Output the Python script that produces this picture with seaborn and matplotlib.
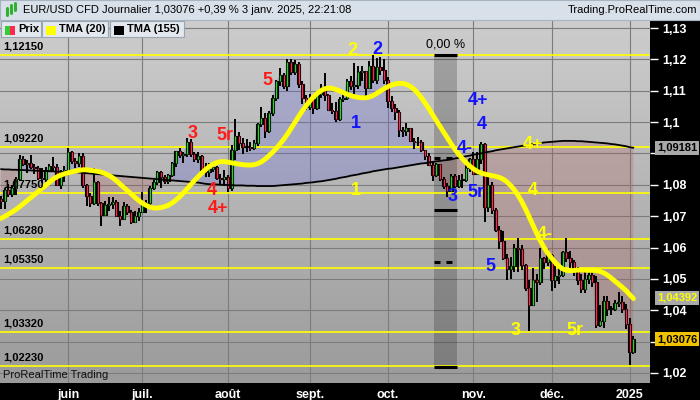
import numpy as np
import pandas as pd
import seaborn as sns
import matplotlib
matplotlib.use("agg")
import matplotlib.pyplot as plt
from matplotlib.patches import Rectangle
from matplotlib.lines import Line2D
from matplotlib.colors import LinearSegmentedColormap
from matplotlib.ticker import FuncFormatter

# EUR/USD daily bars, 8 May 2024 -> 3 Jan 2025 (no bar on 25 Dec / 1 Jan)
closes = [
    1.0748, 1.0782, 1.0771, 1.0790, 1.0820, 1.0882, 1.0866, 1.0869, 1.0857, 1.0855, 1.0823, 1.0818, 1.0847, 1.0859, 1.0858, 1.0800, 1.0832, 1.0848,
    1.0904, 1.0876, 1.0870, 1.0891, 1.0800, 1.0765, 1.0741, 1.0810, 1.0741, 1.0703, 1.0735, 1.0740, 1.0746, 1.0702, 1.0692, 1.0733, 1.0714, 1.0682, 1.0700, 1.0713,
    1.0740, 1.0742, 1.0791, 1.0809, 1.0840, 1.0826, 1.0813, 1.0830, 1.0868, 1.0907, 1.0894, 1.0897, 1.0938, 1.0897, 1.0883, 1.0891, 1.0846, 1.0842, 1.0850, 1.0856, 1.0822, 1.0817, 1.0826,
    1.0790, 1.0910, 1.0955, 1.0932, 1.0922, 1.0920, 1.0916, 1.0932, 1.0993, 1.1012, 1.0970, 1.1028, 1.1077, 1.1130, 1.1151, 1.1114, 1.1193, 1.1161, 1.1184, 1.1120, 1.1078, 1.1047,
    1.1073, 1.1044, 1.1089, 1.1111, 1.1085, 1.1040, 1.1036, 1.1011, 1.1075, 1.1076, 1.1132, 1.1114, 1.1117, 1.1161, 1.1164, 1.1110, 1.1180, 1.1134, 1.1176, 1.1165, 1.1135,
    1.1068, 1.1045, 1.1033, 1.0974, 1.0973, 1.0980, 1.0940, 1.0935, 1.0938, 1.0910, 1.0891, 1.0862, 1.0832, 1.0866, 1.0817, 1.0797, 1.0781, 1.0827, 1.0796, 1.0815, 1.0816, 1.0855, 1.0883,
    1.0834, 1.0881, 1.0929, 1.0730, 1.0800, 1.0719, 1.0655, 1.0622, 1.0565, 1.0530, 1.0541, 1.0599, 1.0595, 1.0543, 1.0472, 1.0418, 1.0495, 1.0490, 1.0568, 1.0555, 1.0577,
    1.0497, 1.0510, 1.0511, 1.0585, 1.0567, 1.0555, 1.0528, 1.0496, 1.0467, 1.0500, 1.0512, 1.0490, 1.0352, 1.0365, 1.0430, 1.0405, 1.0405, 1.0422, 1.0426, 1.0405, 1.0355,
    1.0268, 1.0308,
]
highs = [
    1.0763, 1.0790, 1.0803, 1.0799, 1.0826, 1.0895, 1.0891, 1.0880, 1.0894, 1.0866, 1.0860, 1.0852, 1.0858, 1.0865, 1.0888, 1.0866, 1.0848, 1.0860,
    1.0916, 1.0907, 1.0884, 1.0902, 1.0900, 1.0802, 1.0775, 1.0852, 1.0812, 1.0745, 1.0749, 1.0762, 1.0760, 1.0751, 1.0718, 1.0746, 1.0740, 1.0719, 1.0717, 1.0726,
    1.0776, 1.0750, 1.0796, 1.0816, 1.0845, 1.0845, 1.0830, 1.0834, 1.0872, 1.0909, 1.0916, 1.0903, 1.0948, 1.0945, 1.0904, 1.0903, 1.0895, 1.0868, 1.0868, 1.0871, 1.0859, 1.0836, 1.0848,
    1.0832, 1.0926, 1.1009, 1.0968, 1.0948, 1.0945, 1.0938, 1.0942, 1.0998, 1.1047, 1.1030, 1.1035, 1.1085, 1.1135, 1.1174, 1.1155, 1.1201, 1.1202, 1.1197, 1.1190, 1.1132, 1.1085,
    1.1090, 1.1075, 1.1093, 1.1121, 1.1155, 1.1089, 1.1060, 1.1064, 1.1079, 1.1095, 1.1137, 1.1148, 1.1189, 1.1180, 1.1180, 1.1164, 1.1194, 1.1214, 1.1203, 1.1209, 1.1200,
    1.1145, 1.1083, 1.1059, 1.1040, 1.0985, 1.0996, 1.0982, 1.0950, 1.0954, 1.0943, 1.0912, 1.0900, 1.0872, 1.0869, 1.0866, 1.0825, 1.0805, 1.0836, 1.0834, 1.0830, 1.0835, 1.0870, 1.0886,
    1.0905, 1.0905, 1.0937, 1.0933, 1.0827, 1.0810, 1.0725, 1.0670, 1.0653, 1.0580, 1.0570, 1.0610, 1.0630, 1.0608, 1.0546, 1.0496, 1.0535, 1.0515, 1.0598, 1.0570, 1.0596,
    1.0580, 1.0540, 1.0545, 1.0590, 1.0629, 1.0590, 1.0560, 1.0538, 1.0515, 1.0523, 1.0535, 1.0522, 1.0508, 1.0418, 1.0446, 1.0445, 1.0415, 1.0434, 1.0457, 1.0445, 1.0419,
    1.0375, 1.0317,
]
lows = [
    1.0724, 1.0723, 1.0761, 1.0762, 1.0766, 1.0812, 1.0859, 1.0838, 1.0850, 1.0835, 1.0815, 1.0805, 1.0810, 1.0840, 1.0844, 1.0797, 1.0788, 1.0810,
    1.0840, 1.0866, 1.0853, 1.0857, 1.0790, 1.0732, 1.0730, 1.0735, 1.0732, 1.0668, 1.0703, 1.0717, 1.0724, 1.0700, 1.0670, 1.0691, 1.0703, 1.0676, 1.0680, 1.0685,
    1.0710, 1.0710, 1.0735, 1.0785, 1.0798, 1.0791, 1.0804, 1.0804, 1.0826, 1.0858, 1.0884, 1.0870, 1.0890, 1.0888, 1.0874, 1.0869, 1.0841, 1.0825, 1.0826, 1.0842, 1.0814, 1.0800, 1.0795,
    1.0777, 1.0780, 1.0880, 1.0910, 1.0897, 1.0905, 1.0907, 1.0910, 1.0925, 1.0984, 1.0950, 1.0965, 1.1020, 1.1066, 1.1116, 1.1104, 1.1100, 1.1150, 1.1149, 1.1110, 1.1058, 1.1040,
    1.1040, 1.1026, 1.1037, 1.1077, 1.1066, 1.1034, 1.1025, 1.1001, 1.1003, 1.1064, 1.1070, 1.1101, 1.1091, 1.1105, 1.1131, 1.1083, 1.1108, 1.1125, 1.1123, 1.1150, 1.1123,
    1.1045, 1.1033, 1.1007, 1.0951, 1.0954, 1.0955, 1.0935, 1.0915, 1.0925, 1.0904, 1.0880, 1.0860, 1.0811, 1.0826, 1.0813, 1.0786, 1.0761, 1.0777, 1.0791, 1.0790, 1.0790, 1.0810, 1.0840,
    1.0830, 1.0830, 1.0867, 1.0682, 1.0713, 1.0708, 1.0650, 1.0595, 1.0560, 1.0497, 1.0500, 1.0523, 1.0523, 1.0528, 1.0462, 1.0335, 1.0415, 1.0425, 1.0481, 1.0530, 1.0540,
    1.0460, 1.0472, 1.0484, 1.0506, 1.0555, 1.0535, 1.0510, 1.0480, 1.0454, 1.0456, 1.0485, 1.0473, 1.0343, 1.0345, 1.0343, 1.0382, 1.0385, 1.0396, 1.0410, 1.0390, 1.0341,
    1.0226, 1.0262,
]
# closes of the 20 sessions before the first bar (warm-up for TMA 20)
warmup_closes = [1.0742, 1.0726, 1.0642, 1.0625, 1.0620, 1.0672, 1.0644, 1.0655, 1.0655, 1.0704,
                 1.0699, 1.0730, 1.0693, 1.0719, 1.0665, 1.0715, 1.0727, 1.0762, 1.0770, 1.0754]
# TMA(155)
tma155 = [
    1.0850, 1.0849, 1.0849, 1.0848, 1.0848, 1.0847, 1.0847, 1.0846, 1.0846, 1.0845, 1.0845, 1.0844, 1.0844, 1.0843, 1.0843, 1.0842, 1.0842, 1.0841, 1.0841, 1.0840, 1.0840,
    1.0839, 1.0838, 1.0837, 1.0836, 1.0835, 1.0834, 1.0833, 1.0832, 1.0831, 1.0830, 1.0829, 1.0828, 1.0827, 1.0826, 1.0825, 1.0824, 1.0823, 1.0822,
    1.0821, 1.0820, 1.0819, 1.0818, 1.0817, 1.0816, 1.0815, 1.0814, 1.0813, 1.0812, 1.0811, 1.0810, 1.0809, 1.0808, 1.0807, 1.0805, 1.0803,
    1.0802, 1.0801, 1.0801, 1.0800, 1.0800, 1.0799, 1.0799, 1.0798, 1.0798, 1.0798, 1.0797, 1.0797, 1.0797, 1.0796, 1.0796, 1.0796, 1.0796, 1.0796,
    1.0797, 1.0798, 1.0799, 1.0800, 1.0801, 1.0802, 1.0803, 1.0804, 1.0806, 1.0807, 1.0808, 1.0810, 1.0811, 1.0813, 1.0815,
    1.0817, 1.0819, 1.0822, 1.0824, 1.0826, 1.0829, 1.0831, 1.0833, 1.0836, 1.0838, 1.0840, 1.0843, 1.0845, 1.0847,
    1.0849, 1.0851, 1.0852, 1.0854, 1.0856, 1.0858, 1.0860, 1.0862, 1.0864, 1.0866, 1.0868, 1.0869, 1.0871, 1.0873, 1.0875, 1.0876, 1.0878, 1.0879,
    1.0881, 1.0884, 1.0886, 1.0889, 1.0891, 1.0893, 1.0896, 1.0898, 1.0900, 1.0903, 1.0905, 1.0907, 1.0910, 1.0912,
    1.0914, 1.0916, 1.0918, 1.0920, 1.0922, 1.0924, 1.0926, 1.0928, 1.0930, 1.0932, 1.0933, 1.0935, 1.0936, 1.0937, 1.0938, 1.0939, 1.0940, 1.0940,
    1.0940, 1.0940, 1.0939, 1.0939, 1.0938, 1.0937, 1.0936, 1.0935, 1.0934, 1.0933, 1.0932, 1.0930, 1.0929, 1.0927, 1.0925, 1.0923, 1.0920, 1.0918,
]

levels = [1.12150, 1.09220, 1.07750, 1.06280, 1.05350, 1.03320, 1.02230]
month_names = ["juin", "juil.", "août", "sept.", "oct.", "nov.", "déc.", "2025"]
price_ticks = [1.02, 1.03, 1.04, 1.05, 1.06, 1.07, 1.08, 1.09, 1.10, 1.11, 1.12, 1.13]
last_values = [1.09181, 1.04392, 1.03076]  # TMA155, TMA20, price

wave_text = ["3", "5r", "4", "4+", "5",
             "2", "1", "4+", "4", "4-", "3", "5r",
             "2", "1", "4+", "4", "4-", "3", "5r", "5"]
wave_color = ["r", "r", "r", "r", "r",
              "y", "y", "y", "y", "y", "y", "y",
              "b", "b", "b", "b", "b", "b", "b", "b"]
wave_idx = [51.6, 60.2, 56.7, 58.3, 71.5,
            94.4, 95.4, 143.0, 143.0, 146.2, 138.4, 154.3,
            101.3, 95.4, 128.2, 129.3, 124.7, 121.5, 127.7, 131.5]
wave_price = [1.0965, 1.0956, 1.0783, 1.0726, 1.1134,
              1.1227, 1.0783, 1.0927, 1.0783, 1.0640, 1.0334, 1.0334,
              1.1230, 1.0997, 1.1070, 1.0991, 1.0917, 1.0764, 1.0777, 1.0538]
palette = {"r": "#ff1a1a", "y": "#ffff00", "b": "#1414ff"}

# date-range tool box (0,00 %)
box_idx = [116.4, 122.6]
box_prices = [1.1215, 1.0220, 1.0720]
box_dash_prices = [1.0885, 1.0554]

dates = pd.bdate_range("2024-05-08", "2025-01-03")
dates = dates[~dates.isin(pd.to_datetime(["2024-12-25", "2025-01-01"]))]
month_pos = [i for i in range(1, len(dates)) if dates[i].month != dates[i - 1].month]

c = np.array(closes)
hi = np.array(highs)
lo = np.array(lows)
o = np.array([warmup_closes[-1]] + closes[:-1])
t155 = np.array(tma155)
x = np.arange(len(c))
full = pd.Series(warmup_closes + closes)
tma20 = full.rolling(10).mean().rolling(11).mean().to_numpy()[len(warmup_closes):]

sns.set_style("white")
plt.rcParams["font.family"] = ["Liberation Sans", "DejaVu Sans"]

W, H = 700, 400
fig = plt.figure(figsize=(7, 4), dpi=100, facecolor="black")


def fx(px):
    return px / W


def fy(py):
    return 1 - py / H


ax = fig.add_axes([0, 17 / H, 650 / W, 363 / H])

# background gradient
grad = np.linspace(0, 1, 256).reshape(-1, 1)
bg_cmap = LinearSegmentedColormap.from_list("bg", ["#cdcdcd", "#9b9b9b"])
ax.imshow(grad, extent=[0, 1, 0, 1], transform=ax.transAxes, aspect="auto", cmap=bg_cmap, zorder=0)

ax.set_axisbelow(True)
ax.grid(True, color="#7c7c7c", lw=0.8)

# area between price and TMA155
ax.fill_between(x, c, t155, where=c >= t155, interpolate=True, color="#6a6ad6", alpha=0.3, lw=0, zorder=1)
ax.fill_between(x, c, t155, where=c < t155, interpolate=True, color="#b05858", alpha=0.25, lw=0, zorder=1)

# date-range box
ax.add_patch(Rectangle((box_idx[0], box_prices[1]), box_idx[1] - box_idx[0], box_prices[0] - box_prices[1],
                       fc="black", alpha=0.2, lw=0, zorder=1.5))
ax.hlines(box_prices, box_idx[0], box_idx[1], colors="black", lw=2.2, zorder=2.5)
for p in box_dash_prices:
    ax.hlines([p, p], [box_idx[0], box_idx[0] + 3.1], [box_idx[0] + 1.7, box_idx[0] + 4.8],
              colors="black", lw=2.2, zorder=2.5)
ax.text(np.mean(box_idx), box_prices[0] + 0.0012, "0,00 %", ha="center", va="bottom",
        fontsize=9, color="black", zorder=6)

for lvl in levels:
    ax.axhline(lvl, color="#ffff00", lw=1.2, zorder=2)
    ax.annotate(f"{lvl:.5f}".replace(".", ","), xy=(0, lvl), xycoords=("axes fraction", "data"),
                xytext=(3, 3), textcoords="offset pixels", ha="left", va="bottom",
                fontsize=8, fontweight="bold", color="black", zorder=6)

# candles
up = c >= o
ax.vlines(x, lo, hi, color="black", lw=1.4, zorder=3)
body_h = np.maximum(np.abs(c - o), 0.0003)
body_b = np.minimum(o, c)
ax.bar(x, body_h, bottom=body_b, width=0.75, color="black", edgecolor="black", lw=0.8, zorder=3)
ax.vlines(x[up], o[up], c[up], color="#30d030", lw=1, zorder=3.5)
ax.vlines(x[~up], c[~up], o[~up], color="#ff2850", lw=1, zorder=3.5)

sns.lineplot(x=x, y=t155, ax=ax, color="black", lw=1.3, estimator=None, zorder=4)
sns.lineplot(x=x, y=tma20, ax=ax, color="#ffff00", lw=3.5, estimator=None, zorder=5)

for t, col, xi, p in zip(wave_text, wave_color, wave_idx, wave_price):
    ax.text(xi, p, t, ha="center", va="center", fontsize=13, fontweight="bold",
            color=palette[col], zorder=6)

ax.text(3 / 650, 3 / 363, "ProRealTime Trading", transform=ax.transAxes, ha="left", va="bottom",
        fontsize=8, color="#111111", zorder=6)

ax.set_xlim(-1 / 3.72, 649 / 3.72)
ax.set_ylim(1.13 - 355 / 3136, 1.13 + 8 / 3136)
ax.set_xticks(month_pos)
ax.set_xticklabels(month_names)
ax.yaxis.tick_right()
ax.set_yticks(price_ticks)


def price_label(v, pos):
    # ticks hidden behind a value box are left blank
    if any(abs(v - lv) < 0.003 for lv in last_values):
        return ""
    return f"{v:.2f}".rstrip("0").replace(".", ",")


ax.yaxis.set_major_formatter(FuncFormatter(price_label))
ax.tick_params(axis="x", colors="white", length=3, width=1, pad=1, labelsize=9)
ax.tick_params(axis="y", colors="white", length=6, width=1, pad=3, labelsize=9)
for lab in ax.get_xticklabels() + ax.get_yticklabels():
    lab.set_fontweight("bold")
for s in ax.spines.values():
    s.set_visible(False)
ax.set_xlabel("")
ax.set_ylabel("")

# value boxes on the price axis
box_styles = [("#a9a9a9", "black"), ("#a9a9a9", "#ffff00"), ("#f2c200", "black")]
for v, (fc, tc) in zip(last_values, box_styles):
    ax.annotate(f"{v:.5f}".replace(".", ","), xy=(1, v), xycoords=("axes fraction", "data"),
                xytext=(7, 0), textcoords="offset pixels", ha="left", va="center",
                fontsize=8, fontweight="bold", color=tc, annotation_clip=False,
                bbox=dict(boxstyle="square,pad=0.2", fc=fc, ec="none"))

# header bar
fig.add_artist(Rectangle((0, fy(20)), 1, 20 / H, transform=fig.transFigure,
                         fc="#d8e0ea", ec="#a8b4c0", lw=0.8))
for px, top, bot, col in [(7, 8, 15, "#30b030"), (11, 5, 13, "#30b030"), (15, 3, 10, "#30b030")]:
    fig.add_artist(Line2D([fx(px), fx(px)], [fy(top), fy(bot)], transform=fig.transFigure, color=col, lw=2.2))
fig.text(fx(23), fy(10), "EUR/USD CFD Journalier 1,03076 +0,39 % 3 janv. 2025, 22:21:08",
         ha="left", va="center", fontsize=8, color="black")
fig.text(fx(697), fy(10), "Trading.ProRealTime.com", ha="right", va="center", fontsize=8, color="black")

# legend boxes
legend_items = [("Prix", 1, 41), ("TMA (20)", 42, 108), ("TMA (155)", 110, 184)]
for name, x0, x1 in legend_items:
    fig.add_artist(Rectangle((fx(x0), fy(37)), fx(x1) - fx(x0), 16 / H, transform=fig.transFigure,
                             fc="#e3e8ee", ec="#9aa5b2", lw=0.8))
    fig.text(fx(x0 + 17), fy(29), name, ha="left", va="center", fontsize=8, fontweight="bold", color="black")
fig.add_artist(Rectangle((fx(5), fy(35)), fx(5) - fx(0), 9 / H, transform=fig.transFigure, fc="#33cc33", ec="none"))
fig.add_artist(Rectangle((fx(10), fy(35)), fx(5) - fx(0), 9 / H, transform=fig.transFigure, fc="#ff2850", ec="none"))
fig.add_artist(Rectangle((fx(46), fy(35)), fx(10) - fx(0), 9 / H, transform=fig.transFigure, fc="#ffff00", ec="none"))
fig.add_artist(Rectangle((fx(114), fy(35)), fx(10) - fx(0), 9 / H, transform=fig.transFigure, fc="black", ec="none"))

fig.savefig("out.png", dpi=100, facecolor=fig.get_facecolor())
